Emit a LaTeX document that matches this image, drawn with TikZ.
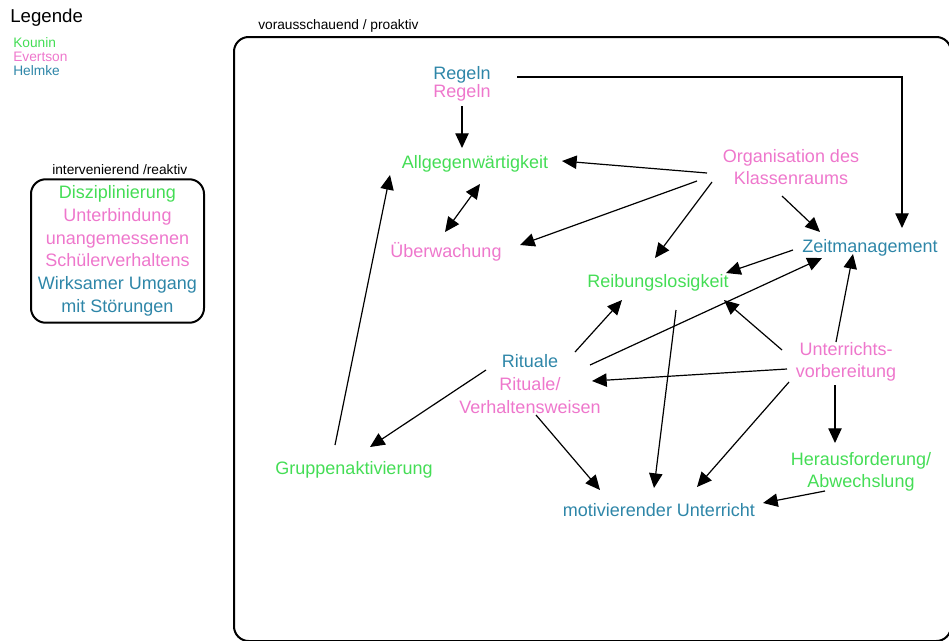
\documentclass[tikz,border=0pt]{standalone}
\usepackage{fontspec}
\setmainfont{Liberation Sans}
\usetikzlibrary{arrows.meta}
\definecolor{kgreen}{HTML}{44DD55}
\definecolor{epink}{HTML}{EE77CC}
\definecolor{hblue}{HTML}{2E86A8}

\begin{document}
\begin{tikzpicture}[x=0.75pt,y=-0.75pt,
  lbl/.style={font=\fontsize{13.5}{17}\selectfont,align=center,inner sep=5pt},
  small/.style={font=\fontsize{10.3}{12}\selectfont,inner sep=0pt,anchor=west},
  arr/.style={-{Triangle[length=11pt,width=10pt]},line width=0.9pt}]
\useasboundingbox (0,0) rectangle (949,640);
\clip (0,0) rectangle (949,640);
% Legende
\node[anchor=west,inner sep=0pt,font=\fontsize{14}{16}\selectfont] (legende) at (10,18) {Legende};
\node[small,text=kgreen] (kounin) at (13,43) {Kounin};
\node[small,text=epink] (evertson) at (13,57) {Evertson};
\node[small,text=hblue] (helmke) at (13,71) {Helmke};
% reaktiv
\node[small] (reaktivtitel) at (52,170) {intervenierend /reaktiv};
\node[lbl,draw,line width=1.5pt,rounded corners=11pt,minimum width=129.75pt,minimum height=107.25pt]
  (reaktiv) at (117.5,251)
  {\textcolor{kgreen}{Disziplinierung}\\
   \textcolor{epink}{Unterbindung}\\
   \textcolor{epink}{unangemessenen}\\
   \textcolor{epink}{Schülerverhaltens}\\
   \textcolor{hblue}{Wirksamer Umgang}\\
   \textcolor{hblue}{mit Störungen}};
% proaktiv
\node[small] (proaktivtitel) at (258,26) {vorausschauend / proaktiv};
\draw[line width=1.5pt,rounded corners=11pt] (234,37) rectangle (951,641);

\node[lbl,font=\fontsize{13.5}{13.5}\selectfont] (regeln) at (462,84) {\textcolor{hblue}{Regeln}\\\textcolor{epink}{Regeln}};
\node[lbl,text=kgreen] (allg) at (475,164) {Allgegenwärtigkeit};
\node[lbl,text=epink] (org) at (791,167) {Organisation des\\Klassenraums};
\node[lbl,text=epink] (ueber) at (446,252) {Überwachung};
\node[lbl,text=hblue] (zeit) at (870,248) {Zeitmanagement};
\node[lbl,text=kgreen] (reib) at (658,283) {Reibungslosigkeit};
\node[lbl] (rituale) at (530,384) {\textcolor{hblue}{Rituale}\\\textcolor{epink}{Rituale/}\\\textcolor{epink}{Verhaltensweisen}};
\node[lbl,text=epink] (vorb) at (846,362) {Unterrichts-\\vorbereitung};
\node[lbl,text=kgreen] (heraus) at (861,472) {Herausforderung/\\Abwechslung};
\node[lbl,text=kgreen] (gruppe) at (354,470) {Gruppenaktivierung};
\node[lbl,text=hblue] (motiv) at (659,510) {motivierender Unterricht};

\draw[arr] ([shift={(0,22)}]regeln.center) -- ([shift={(-13,-16)}]allg.center);
\draw[arr] ([shift={(55,-7)}]regeln.center) -| ([shift={(32,-20)}]zeit.center);
\draw[arr] ([shift={(-84,6)}]org.center) -- ([shift={(87,-3)}]allg.center);
\draw[arr] ([shift={(-94,14)}]org.center) -- ([shift={(74,-7)}]ueber.center);
\draw[arr] ([shift={(-79,15)}]org.center) -- ([shift={(-3,-25)}]reib.center);
\draw[arr] ([shift={(-9,29)}]org.center) -- ([shift={(-50,-16)}]zeit.center);
\draw[arr,{Triangle[length=11pt,width=10pt]}-{Triangle[length=11pt,width=10pt]}]
  ([shift={(5,20)}]allg.center) -- ([shift={(-1,-20)}]ueber.center);
\draw[arr] ([shift={(-77,2)}]zeit.center) -- ([shift={(68,-10)}]reib.center);
\draw[arr] ([shift={(60,-19)}]rituale.center) -- ([shift={(-48,10)}]zeit.center);
\draw[arr] ([shift={(45,-32)}]rituale.center) -- ([shift={(-36,17)}]reib.center);
\draw[arr] ([shift={(-44,-14)}]rituale.center) -- ([shift={(16,-23)}]gruppe.center);
\draw[arr] ([shift={(6,31)}]rituale.center) -- ([shift={(-59,-20)}]motiv.center);
\draw[arr] ([shift={(18,27)}]reib.center) -- ([shift={(-5,-22)}]motiv.center);
\draw[arr] ([shift={(-64,-12)}]vorb.center) -- ([shift={(66,17)}]reib.center);
\draw[arr] ([shift={(-10,-20)}]vorb.center) -- ([shift={(-17,6)}]zeit.center);
\draw[arr] ([shift={(-59,7)}]vorb.center) -- ([shift={(62,-3)}]rituale.center);
\draw[arr] ([shift={(-57,20)}]vorb.center) -- ([shift={(38,-23)}]motiv.center);
\draw[arr] ([shift={(-11,23)}]vorb.center) -- ([shift={(-26,-29)}]heraus.center);
\draw[arr] ([shift={(-36,19)}]heraus.center) -- ([shift={(104,-7)}]motiv.center);
\draw[arr] ([shift={(-19,-25)}]gruppe.center) -- ([shift={(-85,11)}]allg.center);
\end{tikzpicture}
\end{document}
